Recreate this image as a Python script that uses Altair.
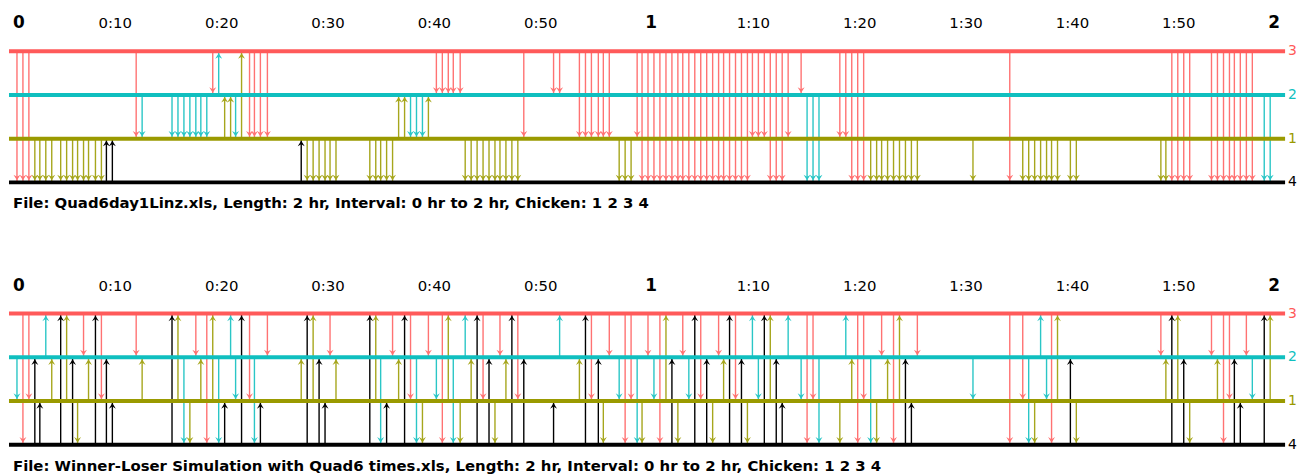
import altair as alt
import pandas as pd

# Event times (minutes from start), shared by both panels
TIMES = [
    0.75, 1.31, 1.87, 2.43, 2.90, 3.46, 4.02, 4.86, 5.42, 5.98,
    6.45, 7.01, 7.48, 8.13, 8.69, 9.16, 9.72, 11.96, 12.52, 15.33,
    15.89, 16.45, 17.01, 17.57, 18.04, 18.60, 19.16, 19.72, 20.28, 20.84,
    21.31, 21.87, 22.62, 23.08, 23.64, 24.30, 27.48, 28.04, 28.60, 29.16,
    29.72, 30.19, 30.75, 33.93, 34.49, 34.95, 35.51, 36.07, 36.64, 37.20,
    37.76, 38.32, 38.88, 39.44, 40.19, 40.75, 41.31, 41.78, 42.43, 42.90,
    43.46, 44.02, 44.58, 45.14, 45.70, 46.17, 46.73, 47.29, 47.85, 48.41,
    51.21, 51.78, 53.64, 54.21, 54.77, 55.42, 55.89, 56.45, 57.38, 57.94,
    58.50, 59.07, 59.53, 60.09, 60.65, 61.21, 61.78, 62.34, 62.90, 63.36,
    63.93, 64.49, 65.05, 65.61, 66.17, 66.73, 67.20, 67.76, 68.32, 68.88,
    69.44, 69.91, 70.47, 71.03, 71.59, 72.15, 72.71, 73.27, 74.49, 75.05,
    75.61, 76.17, 78.13, 78.69, 79.25, 79.81, 80.37, 81.03, 81.59, 82.06,
    82.62, 83.18, 83.74, 84.30, 84.86, 85.42, 90.65, 94.11, 95.33, 95.89,
    96.45, 97.01, 97.57, 98.04, 98.60, 99.81, 100.37, 108.32, 108.79, 109.35,
    109.91, 110.47, 111.03, 113.08, 113.64, 114.21, 114.77, 115.23, 115.79, 116.36,
    116.92, 118.04, 118.60,
]

# "winner>loser" chicken ids for each event, observed file (top panel)
TOP_PAIRS = [
    "3>4", "3>4", "3>4", "1>4", "1>4", "1>4", "1>4", "1>4", "1>4", "1>4",
    "1>4", "1>4", "1>4", "1>4", "1>4", "4>1", "4>1", "3>1", "2>1", "2>1",
    "2>1", "2>1", "2>1", "2>1", "2>1", "2>1", "3>2", "2>3", "1>2", "1>2",
    "2>1", "1>3", "3>1", "3>1", "3>1", "3>1", "4>1", "1>4", "1>4", "1>4",
    "1>4", "1>4", "1>4", "1>4", "1>4", "1>4", "1>4", "1>4", "1>2", "1>2",
    "2>1", "2>1", "2>1", "1>2", "3>2", "3>2", "3>2", "3>2", "3>2", "1>4",
    "1>4", "1>4", "1>4", "1>4", "1>4", "1>4", "1>4", "1>4", "1>4", "3>1",
    "3>2", "3>2", "3>1", "3>1", "3>1", "3>1", "3>1", "3>1", "1>4", "1>4",
    "1>4", "3>1", "3>4", "3>4", "3>4", "3>4", "3>4", "3>4", "3>4", "3>4",
    "3>4", "3>4", "3>4", "3>4", "3>4", "3>4", "3>4", "3>4", "3>4", "3>4",
    "3>4", "3>1", "3>1", "3>1", "3>4", "3>4", "3>4", "3>1", "3>2", "2>4",
    "2>4", "2>4", "3>1", "3>1", "3>4", "3>4", "3>4", "1>4", "1>4", "1>4",
    "1>4", "1>4", "1>4", "1>4", "1>4", "1>4", "1>4", "3>4", "1>4", "1>4",
    "1>4", "1>4", "1>4", "1>4", "1>4", "1>4", "1>4", "1>4", "1>4", "3>4",
    "3>4", "3>4", "3>4", "3>4", "3>4", "3>4", "3>4", "3>4", "3>4", "3>4",
    "3>4", "2>4", "2>4",
]

# "winner>loser" chicken ids for each event, simulation (bottom panel)
BOTTOM_PAIRS = [
    "2>1", "3>4", "3>1", "4>2", "4>1", "2>3", "1>2", "4>3", "1>3", "4>2",
    "1>4", "3>2", "1>2", "4>3", "3>1", "4>2", "4>1", "3>2", "1>2", "4>3",
    "1>3", "2>4", "1>4", "3>2", "1>2", "3>4", "1>3", "2>4", "4>1", "2>3",
    "2>1", "4>3", "3>1", "2>4", "4>1", "3>2", "1>2", "4>3", "1>3", "4>2",
    "4>1", "3>2", "1>2", "4>3", "1>3", "2>4", "4>1", "3>2", "1>2", "4>3",
    "3>1", "2>4", "1>4", "3>2", "2>1", "3>4", "1>3", "2>4", "1>4", "2>3",
    "1>2", "4>3", "3>1", "4>2", "1>4", "3>2", "1>2", "4>3", "3>1", "4>2",
    "4>1", "2>3", "1>2", "4>3", "3>1", "4>2", "1>4", "3>2", "2>1", "3>4",
    "3>1", "2>4", "1>4", "3>2", "2>1", "3>4", "1>3", "4>2", "1>4", "3>2",
    "2>1", "4>3", "3>1", "4>2", "1>4", "3>2", "1>2", "4>3", "3>1", "4>2",
    "1>4", "2>3", "2>1", "4>3", "1>3", "4>2", "4>1", "2>3", "2>1", "3>4",
    "3>1", "2>4", "1>4", "2>3", "1>2", "3>4", "3>1", "2>4", "1>4", "3>2",
    "1>2", "3>4", "1>3", "4>2", "4>1", "3>2", "2>1", "3>4", "3>1", "2>4",
    "1>4", "2>3", "2>1", "3>4", "1>3", "4>2", "1>4", "3>2", "1>2", "4>3",
    "1>3", "4>2", "1>4", "3>2", "1>2", "3>4", "3>1", "4>2", "4>1", "3>2",
    "2>1", "4>3", "1>3",
]

CHICKENS = ["3", "2", "1", "4"]          # top-to-bottom order of the lines
LINE_COLORS = ["#ff5a5a", "#10bfbf", "#9a9a00", "#000000"]
SHAFT_COLORS = ["#ff7272", "#2ac6c6", "#a6a61c", "#000000"]

TICK_MINUTES = [0, 10, 20, 30, 40, 50, 60, 70, 80, 90, 100, 110, 120]
TICK_TEXT = ["0", "0:10", "0:20", "0:30", "0:40", "0:50", "1",
             "1:10", "1:20", "1:30", "1:40", "1:50", "2"]

PANELS = ["top", "bottom"]
CAPTIONS = [
    "File: Quad6day1Linz.xls, Length: 2 hr, Interval: 0 hr to 2 hr, Chicken: 1 2 3 4",
    "File: Winner-Loser Simulation with Quad6 times.xls, Length: 2 hr, Interval: 0 hr to 2 hr, Chicken: 1 2 3 4",
]

# ---- layout helpers (row index of each line inside a panel, panel stacking)
ROW = {c: 3 - i for i, c in enumerate(CHICKENS)}   # 3 top ... 0 bottom
PANEL_BASE = {"top": 6, "bottom": 0}
T_END = 120

ev_rows = []
for panel, pairs in zip(PANELS, [TOP_PAIRS, BOTTOM_PAIRS]):
    base = PANEL_BASE[panel]
    for t, p in zip(TIMES, pairs):
        w, l = p.split(">")
        y0 = ROW[w] + base
        y1 = ROW[l] + base
        ev_rows.append(dict(panel=panel, time=t, winner=w, loser=l,
                            y0=y0, y1=y1, dir="down" if y1 < y0 else "up"))
events = pd.DataFrame(ev_rows)

line_rows = []
for panel in PANELS:
    for c in CHICKENS:
        line_rows.append(dict(panel=panel, chicken=c, start=0, end=T_END,
                              level=ROW[c] + PANEL_BASE[panel]))
lines_df = pd.DataFrame(line_rows)

tick_rows = []
for panel in PANELS:
    for m, s in zip(TICK_MINUTES, TICK_TEXT):
        tick_rows.append(dict(panel=panel, minute=m, label=s,
                              level=ROW["3"] + PANEL_BASE[panel],
                              bold=(":" not in s)))
ticks_df = pd.DataFrame(tick_rows)

cap_df = pd.DataFrame([dict(panel=p, text=c, minute=0, level=PANEL_BASE[p])
                       for p, c in zip(PANELS, CAPTIONS)])

xs = alt.Scale(domain=[0, T_END], nice=False, zero=False)
ys = alt.Scale(domain=[0, 9], nice=False, zero=False)
line_color = alt.Scale(domain=CHICKENS, range=LINE_COLORS)
shaft_color = alt.Scale(domain=CHICKENS, range=SHAFT_COLORS)

DOWN_HEAD = "M0,-0.6L-1,-2.2L0,-1.6L1,-2.2Z"
UP_HEAD = "M0,0.6L-1,2.2L0,1.6L1,2.2Z"

shafts = alt.Chart(events).mark_rule(strokeWidth=1.4).encode(
    x=alt.X("time:Q", scale=xs, axis=None),
    y=alt.Y("y0:Q", scale=ys, axis=None),
    y2="y1:Q",
    color=alt.Color("winner:N", scale=shaft_color, legend=None),
)

hlines = alt.Chart(lines_df).mark_rule(strokeWidth=4).encode(
    x=alt.X("start:Q", scale=xs, axis=None),
    x2="end:Q",
    y=alt.Y("level:Q", scale=ys, axis=None),
    color=alt.Color("chicken:N", scale=line_color, legend=None),
)

heads = alt.Chart(events).mark_point(filled=True, size=49, opacity=1, strokeWidth=0).encode(
    x=alt.X("time:Q", scale=xs, axis=None),
    y=alt.Y("y1:Q", scale=ys, axis=None),
    shape=alt.Shape("dir:N", scale=alt.Scale(domain=["down", "up"], range=[DOWN_HEAD, UP_HEAD]),
                    legend=None),
    color=alt.Color("winner:N", scale=shaft_color, legend=None),
)

tick_enc = dict(
    x=alt.X("minute:Q", scale=xs, axis=None),
    y=alt.Y("level:Q", scale=ys, axis=None),
    text="label:N",
)
ticks_regular = alt.Chart(ticks_df).transform_filter("!datum.bold").mark_text(
    font="DejaVu Sans", fontSize=15, baseline="middle", dy=-28, color="#000000"
).encode(**tick_enc)
ticks_first = alt.Chart(ticks_df).transform_filter("datum.minute == 0").mark_text(
    font="DejaVu Sans", fontWeight="bold", fontSize=17, baseline="middle", align="left",
    dx=4, dy=-28, color="#000000"
).encode(**tick_enc)
ticks_mid = alt.Chart(ticks_df).transform_filter("datum.bold && datum.minute > 0 && datum.minute < 120").mark_text(
    font="DejaVu Sans", fontWeight="bold", fontSize=17, baseline="middle", align="center",
    dx=4, dy=-28, color="#000000"
).encode(**tick_enc)
ticks_last = alt.Chart(ticks_df).transform_filter("datum.minute == 120").mark_text(
    font="DejaVu Sans", fontWeight="bold", fontSize=17, baseline="middle", align="right",
    dx=-5, dy=-28, color="#000000"
).encode(**tick_enc)

right_labels = alt.Chart(lines_df).mark_text(
    font="DejaVu Sans", fontSize=14, align="left", baseline="middle", dx=3
).encode(
    x=alt.X("end:Q", scale=xs, axis=None),
    y=alt.Y("level:Q", scale=ys, axis=None),
    text="chicken:N",
    color=alt.Color("chicken:N", scale=line_color, legend=None),
)

captions = alt.Chart(cap_df).mark_text(
    font="DejaVu Sans", fontWeight="bold", fontSize=15, align="left",
    baseline="alphabetic", dx=4, dy=26, color="#000000"
).encode(
    x=alt.X("minute:Q", scale=xs, axis=None),
    y=alt.Y("level:Q", scale=ys, axis=None),
    text="text:N",
)

chart = alt.layer(
    shafts, hlines, heads, ticks_regular, ticks_first, ticks_mid, ticks_last,
    right_labels, captions
).resolve_scale(color="independent", shape="independent").properties(
    width=1284,
    height=396,
    autosize=alt.AutoSizeParams(type="none"),
    padding={"left": 1, "top": 42, "right": 13, "bottom": 29},
    background="#ffffff",
).configure_view(stroke=None)

chart.save("out.html", embed_options={"renderer": "svg", "actions": False})
